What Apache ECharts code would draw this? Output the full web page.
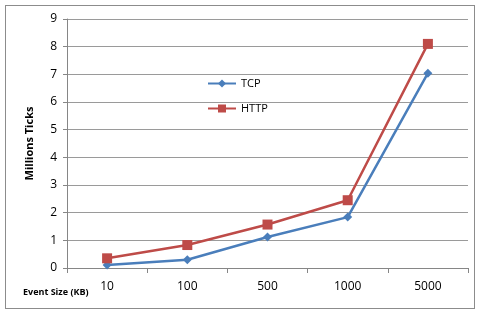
<!DOCTYPE html>
<html>
<head>
<meta charset="utf-8">
<script src="https://cdn.jsdelivr.net/npm/echarts@6/dist/echarts.min.js"></script>
<style>
  html, body { margin: 0; padding: 0; background: #fff; }
  #chart { width: 479px; height: 314px; }
  .frame { position: absolute; left: 5px; top: 5px; width: 470px; height: 304px; border: 1px solid #8c8c8c; box-sizing: border-box; }
</style>
</head>
<body>
<div class="frame"></div>
<div id="chart"></div>
<script>
// event sizes (KB)
const categories = ['10', '100', '500', '1000', '5000']
// millions of ticks
const tcpValues = [0.11, 0.3, 1.12, 1.84, 7.04]
const httpValues = [0.35, 0.83, 1.57, 2.45, 8.1]
const yTicks = [0, 1, 2, 3, 4, 5, 6, 7, 8, 9]

const chart = echarts.init(document.getElementById('chart'), null, { renderer: 'canvas' })

const font = "'Open Sans', 'Noto Sans', sans-serif"

const option = {
  animation: false,
  textStyle: { fontFamily: font },
  title: {
    text: 'Event Size (KB)',
    left: 18,
    top: 283,
    textStyle: { fontSize: 9, fontWeight: 'bold', color: '#000', fontFamily: font }
  },
  legend: {
    orient: 'vertical',
    left: 202,
    top: 73,
    itemGap: 14,
    itemWidth: 28,
    itemHeight: 10,
    textStyle: { fontSize: 11, color: '#000', fontFamily: font },
    data: ['TCP', 'HTTP']
  },
  grid: { left: 67, right: 11, top: 19, bottom: 46 },
  xAxis: {
    type: 'category',
    data: categories,
    boundaryGap: true,
    axisLine: { lineStyle: { color: '#868686' } },
    axisTick: { show: true, length: 5, lineStyle: { color: '#868686' } },
    axisLabel: { color: '#000', fontSize: 12, margin: 13, fontFamily: font }
  },
  yAxis: {
    type: 'value',
    min: yTicks[0],
    max: yTicks[yTicks.length - 1],
    interval: 1,
    name: 'Millions Ticks',
    nameLocation: 'middle',
    nameGap: 32,
    nameRotate: 90,
    nameTextStyle: { fontSize: 11, fontWeight: 'bold', color: '#000', fontFamily: font },
    axisLine: { show: true, lineStyle: { color: '#868686' } },
    axisTick: { show: true, length: 4, inside: false, lineStyle: { color: '#868686' } },
    axisLabel: { color: '#000', fontSize: 12, margin: 10, fontFamily: font },
    splitLine: { lineStyle: { color: '#9a9a9a', width: 1 } }
  },
  series: [
    {
      name: 'TCP',
      type: 'line',
      data: tcpValues,
      symbol: 'diamond',
      symbolSize: 9,
      lineStyle: { color: '#4a7ebb', width: 2.5 },
      itemStyle: { color: '#4a7ebb' }
    },
    {
      name: 'HTTP',
      type: 'line',
      data: httpValues,
      symbol: 'rect',
      symbolSize: 10,
      lineStyle: { color: '#be4b48', width: 2.5 },
      itemStyle: { color: '#be4b48' }
    }
  ]
}

chart.setOption(option)
</script>
</body>
</html>
